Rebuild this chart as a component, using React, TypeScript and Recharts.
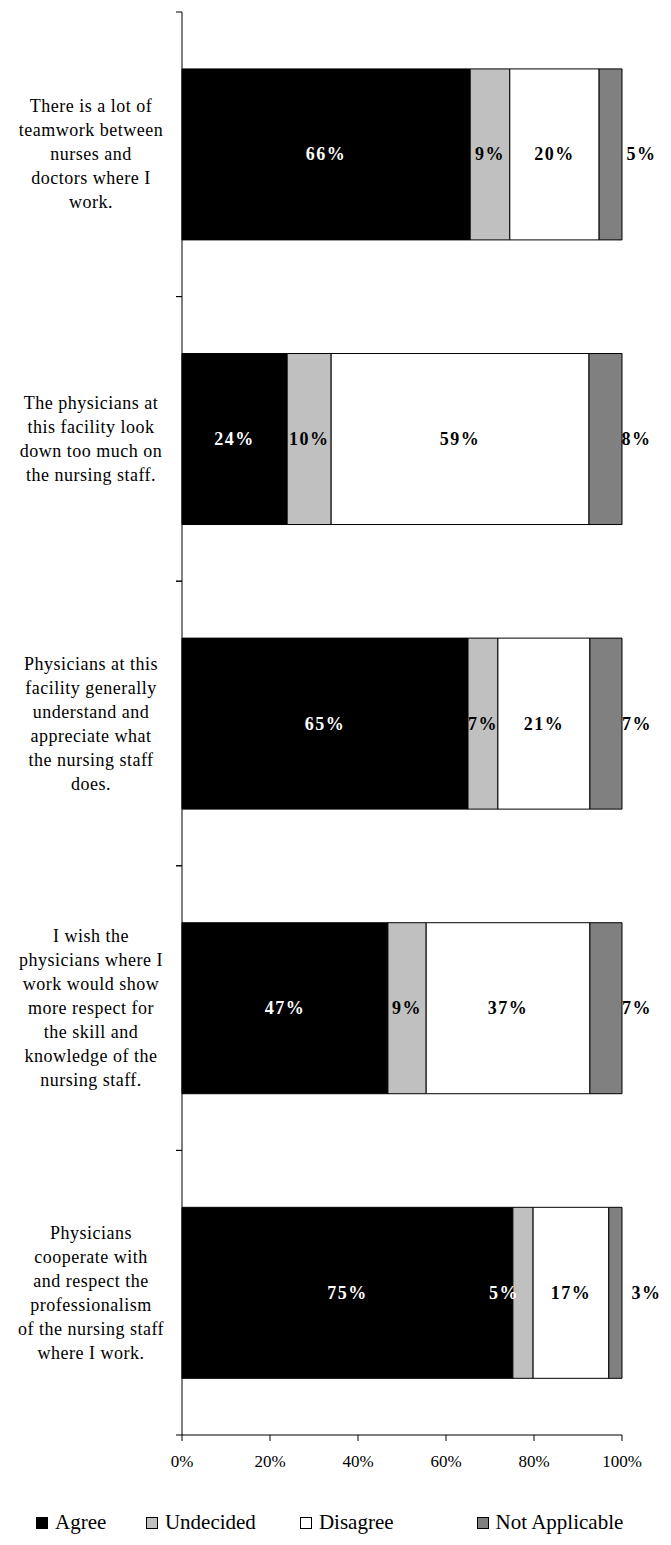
import { Bar, BarChart, LabelList, XAxis, YAxis } from 'recharts';

// Nurse–physician relationship survey, stacked 100% horizontal bars.

const categories = [
  'There is a lot of teamwork between nurses and doctors where I work.',
  'The physicians at this facility look down too much on the nursing staff.',
  'Physicians at this facility generally understand and appreciate what the nursing staff does.',
  'I wish the physicians where I work would show more respect for the skill and knowledge of the nursing staff.',
  'Physicians cooperate with and respect the professionalism of the nursing staff where I work.',
];

const tickLines = [
  ['There is a lot of', 'teamwork between', 'nurses and', 'doctors where I', 'work.'],
  ['The physicians at', 'this facility look', 'down too much on', 'the nursing staff.'],
  ['Physicians at this', 'facility generally', 'understand and', 'appreciate what', 'the nursing staff', 'does.'],
  ['I wish the', 'physicians where I', 'work would show', 'more respect for', 'the skill and', 'knowledge of the', 'nursing staff.'],
  ['Physicians', 'cooperate with', 'and respect the', 'professionalism', 'of the nursing staff', 'where I work.'],
];

const agree = [65.5, 23.9, 65.0, 46.8, 75.2];
const undecided = [9.0, 10.0, 6.8, 8.7, 4.6];
const disagree = [20.3, 58.6, 20.9, 37.2, 17.2];
const notApplicable = [5.2, 7.5, 7.3, 7.3, 3.0];

const xTicks = [0, 20, 40, 60, 80, 100];

const legendItems = [
  { name: 'Agree', color: '#000000' },
  { name: 'Undecided', color: '#C0C0C0' },
  { name: 'Disagree', color: '#FFFFFF' },
  { name: 'Not Applicable', color: '#808080' },
];

const rows = categories.map((c, i) => ({
  category: c,
  agree: agree[i],
  undecided: undecided[i],
  disagree: disagree[i],
  notApplicable: notApplicable[i],
}));

const W = 655;
const H = 1470;
const MARGIN = { top: 4, right: 41, left: 0, bottom: 13 };
const Y_AXIS_W = 174;
const X_AXIS_H = 30;
const BAND = (H - MARGIN.top - MARGIN.bottom - X_AXIS_H) / categories.length;
const SERIF = '"Liberation Serif", "Times New Roman", serif';

function YTick(props: any) {
  const { y, payload } = props;
  const idx = categories.indexOf(payload.value);
  const lines = tickLines[idx] || [];
  const lh = 24;
  const start = y - ((lines.length - 1) * lh) / 2;
  return (
    <g>
      <line x1={Y_AXIS_W - 6} x2={Y_AXIS_W} y1={y - BAND / 2} y2={y - BAND / 2} stroke="#000" />
      <line x1={Y_AXIS_W - 6} x2={Y_AXIS_W} y1={y + BAND / 2} y2={y + BAND / 2} stroke="#000" />
      {lines.map((l, i) => (
        <text
          key={i}
          x={83}
          y={start + i * lh}
          textAnchor="middle"
          dominantBaseline="central"
          fontFamily={SERIF}
          fontSize={18}
          letterSpacing={0.5}
          fill="#000"
        >
          {l}
        </text>
      ))}
    </g>
  );
}

function XTick(props: any) {
  const { x, payload } = props;
  // axis line sits at H - bottom margin - axis height
  const axisY = H - MARGIN.bottom - X_AXIS_H;
  return (
    <text
      x={x}
      y={axisY + 26}
      textAnchor="middle"
      dominantBaseline="central"
      fontFamily={SERIF}
      fontSize={17}
      fill="#000"
    >
      {payload.value + '%'}
    </text>
  );
}

// color / horizontal shift for labels; the narrow undecided slice in the last
// row has its label pushed left onto the black bar
function makeLabel(color: string, shift: number, overrides: Record<number, [string, number]> = {}) {
  return (p: any) => {
    const { x, y, width, height, value, index } = p;
    const [c, s] = overrides[index] || [color, shift];
    return (
      <text
        x={x + width / 2 + s}
        y={y + height / 2}
        textAnchor="middle"
        dominantBaseline="central"
        fontFamily={SERIF}
        fontWeight="bold"
        fontSize={18}
        letterSpacing={1.5}
        fill={c}
      >
        {Math.round(value) + '%'}
      </text>
    );
  };
}

export default function App() {
  return (
    <div style={{ width: W }}>
      <BarChart
        width={W}
        height={H}
        data={rows}
        layout="vertical"
        margin={MARGIN}
        barCategoryGap="20%"
      >
        <XAxis
          type="number"
          domain={[0, 100]}
          ticks={xTicks}
          height={X_AXIS_H}
          axisLine={{ stroke: '#000' }}
          tickLine={{ stroke: '#000' }}
          tickSize={6}
          tick={XTick}
        />
        <YAxis
          type="category"
          dataKey="category"
          width={Y_AXIS_W}
          axisLine={{ stroke: '#000' }}
          tickLine={false}
          tick={YTick}
          interval={0}
        />
        <Bar dataKey="agree" stackId="a" fill="#000000" stroke="#000" isAnimationActive={false}>
          <LabelList dataKey="agree" content={makeLabel('#fff', 0)} />
        </Bar>
        <Bar dataKey="undecided" stackId="a" fill="#C0C0C0" stroke="#000" isAnimationActive={false}>
          <LabelList dataKey="undecided" content={makeLabel('#000', 0, { 4: ['#fff', -19] })} />
        </Bar>
        <Bar dataKey="disagree" stackId="a" fill="#FFFFFF" stroke="#000" isAnimationActive={false}>
          <LabelList dataKey="disagree" content={makeLabel('#000', 0)} />
        </Bar>
        <Bar dataKey="notApplicable" stackId="a" fill="#808080" stroke="#000" isAnimationActive={false}>
          <LabelList dataKey="notApplicable" content={makeLabel('#000', 31)} />
        </Bar>
      </BarChart>
      <div
        style={{
          display: 'flex',
          paddingLeft: 28,
          paddingTop: 32,
          fontFamily: SERIF,
          fontSize: 21,
          color: '#000',
        }}
      >
        {legendItems.map((it, i) => (
          <div
            key={it.name}
            style={{ display: 'flex', alignItems: 'center', width: [112, 157, 180, 190][i] }}
          >
            <span
              style={{
                display: 'inline-block',
                width: 10,
                height: 10,
                background: it.color,
                border: '1px solid #000',
                marginRight: 7,
              }}
            />
            {it.name}
          </div>
        ))}
      </div>
    </div>
  );
}
